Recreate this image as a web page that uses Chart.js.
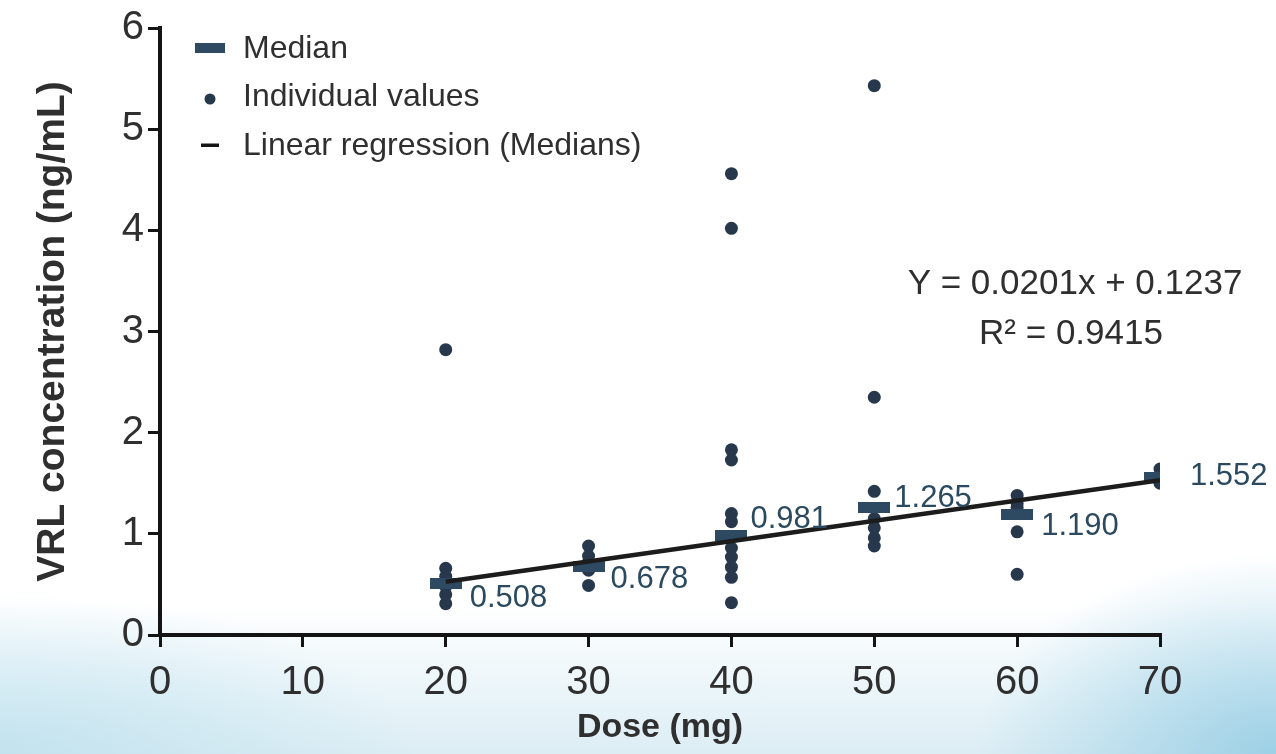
<!DOCTYPE html>
<html>
<head>
<meta charset="utf-8">
<script src="https://cdn.jsdelivr.net/npm/chart.js@4.4.1/dist/chart.umd.min.js"></script>
<style>
  html, body { margin: 0; padding: 0; }
  body {
    width: 1276px; height: 754px; overflow: hidden;
    background:
      radial-gradient(ellipse 420px 160px at 0% 100%, rgba(190,225,238,0.85), rgba(190,225,238,0) 100%),
      radial-gradient(ellipse 300px 200px at 100% 100%, rgba(150,205,228,0.9), rgba(150,205,228,0) 100%),
      linear-gradient(to bottom, #ffffff 0%, #ffffff 80%, #eaf5f9 92%, #dcedf4 100%);
  }
  #wrap { position: relative; width: 1276px; height: 754px; }
</style>
</head>
<body>
<div id="wrap"><canvas id="c"></canvas></div>
<script>
// ---------- data ----------
const doses = [20, 30, 40, 50, 60, 70];
const medians = [0.508, 0.678, 0.981, 1.265, 1.190, 1.552];
const ind20 = [2.82, 0.66, 0.58, 0.48, 0.40, 0.31];
const ind30 = [0.88, 0.78, 0.72, 0.64, 0.49];
const ind40 = [4.56, 4.02, 1.83, 1.73, 1.20, 1.12, 0.86, 0.77, 0.67, 0.57, 0.32];
const ind50 = [5.43, 2.35, 1.42, 1.15, 1.06, 0.96, 0.88];
const ind60 = [1.38, 1.30, 1.26, 1.02, 0.60];
const ind70 = [1.64, 1.58, 1.50];
const regressionX = [20, 70];
const regressionY = [0.526, 1.531];
const xTicks = [0, 10, 20, 30, 40, 50, 60, 70];
const yTicks = [0, 1, 2, 3, 4, 5, 6];
const equationLines = ['Y = 0.0201x + 0.1237', 'R\u00B2 = 0.9415'];
const seriesNames = ['Median', 'Individual values', 'Linear regression (Medians)'];
const axisTitles = { x: 'Dose (mg)', y: 'VRL concentration (ng/mL)' };

// ---------- helpers ----------
function hasFont(name) {
  const c = document.createElement('canvas').getContext('2d');
  const t = '0123456789 Median values';
  c.font = '40px monospace';
  const a = c.measureText(t).width;
  c.font = '40px "' + name + '", monospace';
  const b = c.measureText(t).width;
  return Math.abs(a - b) > 0.5;
}
const HAS_NARROW = hasFont('Liberation Sans Narrow');
const SANS = '"Liberation Sans", Arial, Helvetica, sans-serif';
function narrow(size, weight) {
  if (HAS_NARROW) return { family: '"Liberation Sans Narrow", ' + SANS, size: size, weight: weight || 'normal' };
  return { family: SANS, size: Math.round(size * 0.84), weight: weight || 'normal' };
}
function fontStr(f) { return (f.weight || 'normal') + ' ' + f.size + 'px ' + f.family; }

const TEXT = '#2f2f2f';
const AXIS = '#141414';
const DOT = '#27384d';
const MED = '#2d4a62';
const LABEL = '#2b4a60';

function barIcon(w, h, color) {
  const c = document.createElement('canvas');
  c.width = w; c.height = h;
  const g = c.getContext('2d');
  g.fillStyle = color;
  g.fillRect(0, 0, w, h);
  return c;
}
const medianMark = barIcon(32, 11, MED);

// build datasets
const indGroups = [ind20, ind30, ind40, ind50, ind60, ind70];
const individualPoints = [];
indGroups.forEach((g, i) => g.forEach(v => individualPoints.push({ x: doses[i], y: v })));
const medianPoints = doses.map((d, i) => ({ x: d, y: medians[i] }));
const regressionPoints = regressionX.map((x, i) => ({ x: x, y: regressionY[i] }));

// offsets of the median value labels (pixels, relative to the median mark)
const labelOffsets = [[24, 15], [22, 13], [19, -16], [20, -9], [24, 12], [30, -2]];

const overlayPlugin = {
  id: 'overlay',
  afterDatasetsDraw(chart) {
    const ctx = chart.ctx;
    const xs = chart.scales.x, ys = chart.scales.y;
    const ca = chart.chartArea;
    ctx.save();
    // median value labels
    ctx.font = fontStr(narrow(37));
    ctx.fillStyle = LABEL;
    ctx.textAlign = 'left';
    ctx.textBaseline = 'middle';
    doses.forEach((d, i) => {
      const px = xs.getPixelForValue(d) + labelOffsets[i][0];
      const py = ys.getPixelForValue(medians[i]) + labelOffsets[i][1];
      ctx.fillText(medians[i].toFixed(3), px, py);
    });
    // equation
    ctx.font = fontStr(narrow(42));
    ctx.fillStyle = TEXT;
    ctx.textAlign = 'center';
    ctx.fillText(equationLines[0], ca.left + 915, ca.top + 256);
    ctx.fillText(equationLines[1], ca.left + 911, ca.top + 306);
    // legend
    const lx = ca.left + 50, tx = ca.left + 83;
    const rows = [ca.top + 20, ca.top + 68, ca.top + 117];
    ctx.font = fontStr({ family: SANS, size: 32 });
    ctx.textAlign = 'left';
    ctx.textBaseline = 'middle';
    // order in legend: Median, Individual values, Linear regression
    const order = [1, 0, 2];
    order.forEach((di, r) => {
      const y = rows[r];
      const ds = chart.data.datasets[di];
      if (di === 1) {
        ctx.fillStyle = MED;
        ctx.fillRect(lx - 15, y - 5, 30, 10);
      } else if (di === 0) {
        ctx.fillStyle = DOT;
        ctx.beginPath(); ctx.arc(lx, y + 3, 5.5, 0, Math.PI * 2); ctx.fill();
      } else {
        ctx.fillStyle = AXIS;
        ctx.fillRect(lx - 9, y - 1.5, 18, 3.5);
      }
      ctx.fillStyle = TEXT;
      ctx.fillText(ds.label, tx, y + 1);
    });
    ctx.restore();
  }
};

new Chart(document.getElementById('c'), {
  type: 'scatter',
  data: {
    datasets: [
      {
        label: seriesNames[1],
        data: individualPoints,
        pointStyle: 'circle',
        pointRadius: 6.5,
        pointHoverRadius: 6.5,
        backgroundColor: DOT,
        borderColor: DOT,
        borderWidth: 0,
        order: 3
      },
      {
        label: seriesNames[0],
        data: medianPoints,
        pointStyle: medianMark,
        pointRadius: 10,
        backgroundColor: MED,
        borderColor: MED,
        order: 2
      },
      {
        type: 'line',
        label: seriesNames[2],
        data: regressionPoints,
        borderColor: '#1c1c1c',
        borderWidth: 4.5,
        pointRadius: 0,
        fill: false,
        order: 1
      }
    ]
  },
  options: {
    responsive: true,
    maintainAspectRatio: false,
    animation: false,
    layout: { padding: { left: 0, top: 25, right: 116, bottom: 0 } },
    plugins: {
      legend: { display: false },
      tooltip: { enabled: false }
    },
    scales: {
      x: {
        type: 'linear',
        min: 0, max: 70,
        afterBuildTicks(s) { s.ticks = xTicks.map(v => ({ value: v })); },
        afterFit(s) { s.height = 119; },
        ticks: { font: { family: SANS, size: 40 }, color: TEXT, padding: 12 },
        grid: { display: true, drawOnChartArea: false, drawTicks: true, tickLength: 12, color: AXIS, lineWidth: 3 },
        border: { display: true, color: AXIS, width: 4 },
        title: { display: true, text: axisTitles.x, font: narrow(40, 'bold'), color: TEXT, padding: { top: 0, bottom: 6 } }
      },
      y: {
        type: 'linear',
        min: 0, max: 6,
        afterBuildTicks(s) { s.ticks = yTicks.map(v => ({ value: v })); },
        afterFit(s) { s.width = 160; },
        ticks: { font: { family: SANS, size: 40 }, color: TEXT, padding: 4 },
        grid: { display: true, drawOnChartArea: false, drawTicks: true, tickLength: 12, color: AXIS, lineWidth: 3 },
        border: { display: true, color: AXIS, width: 4 },
        title: { display: true, text: axisTitles.y, font: { family: SANS, size: 39, weight: 'bold' }, color: TEXT, padding: { top: 30, bottom: 0 } }
      }
    }
  },
  plugins: [overlayPlugin]
});
</script>
</body>
</html>
